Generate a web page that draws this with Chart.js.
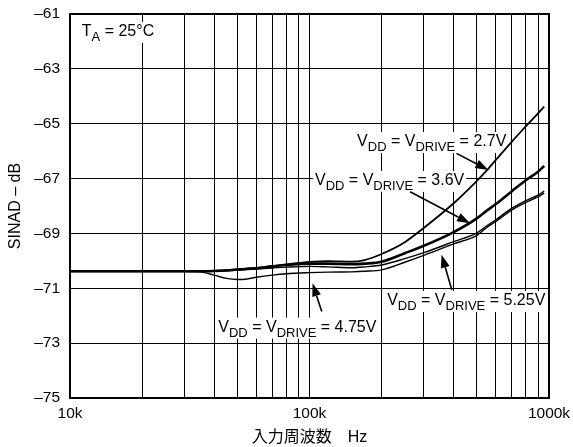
<!DOCTYPE html>
<html>
<head>
<meta charset="utf-8">
<script src="https://cdn.jsdelivr.net/npm/chart.js@4.4.1/dist/chart.umd.min.js"></script>
<style>
  html, body { margin: 0; padding: 0; background: #fff; }
  #wrap { width: 573px; height: 447px; }
</style>
</head>
<body>
<div id="wrap"><canvas id="c" width="573" height="447"></canvas></div>
<script>
// Input frequency in kHz (shared by all four supply curves)
const freqK = [10, 20, 30, 35, 40, 45, 50, 55, 60, 70, 80, 100, 120, 150, 170, 200, 250, 300, 400, 500, 550, 600, 700, 800, 900, 955];

// SINAD (dB) per supply voltage, VDD = VDRIVE
const sinad27  = [-70.38, -70.38, -70.38, -70.38, -70.37, -70.34, -70.31, -70.28, -70.26, -70.19, -70.13, -70.04, -70.01, -70.03, -69.97, -69.75, -69.32, -68.80, -67.90, -67.08, -66.70, -66.32, -65.65, -65.10, -64.62, -64.38];
const sinad36  = [-70.38, -70.38, -70.38, -70.38, -70.37, -70.35, -70.32, -70.29, -70.27, -70.20, -70.15, -70.10, -70.10, -70.12, -70.10, -70.03, -69.72, -69.45, -68.95, -68.45, -68.17, -67.93, -67.46, -67.06, -66.75, -66.54];
const sinad475 = [-70.38, -70.38, -70.38, -70.40, -70.52, -70.64, -70.68, -70.66, -70.60, -70.52, -70.47, -70.43, -70.41, -70.40, -70.38, -70.33, -70.05, -69.80, -69.38, -69.07, -68.78, -68.56, -68.14, -67.87, -67.66, -67.53];
const sinad525 = [-70.38, -70.38, -70.38, -70.38, -70.37, -70.36, -70.34, -70.32, -70.30, -70.26, -70.23, -70.20, -70.22, -70.25, -70.22, -70.15, -69.92, -69.70, -69.30, -68.98, -68.72, -68.50, -68.08, -67.80, -67.60, -67.46];

// Axis ticks
const yTicks = [-75, -73, -71, -69, -67, -65, -63, -61];
const xGridK = [10, 20, 30, 40, 50, 60, 70, 80, 90, 100, 200, 300, 400, 500, 600, 700, 800, 900, 1000];
const xLabelK = [10, 100, 1000];

const FONT = "'Liberation Sans', Arial, 'Noto Sans CJK JP', sans-serif";

function series(ys) {
  return freqK.map((f, i) => ({ x: f, y: ys[i] }));
}

// Callouts: text made of [string, isSubscript] parts, anchored at (kHz, dB), with an arrow
const callouts = [
  { parts: [['T', 0], ['A', 1], [' = 25°C', 0]], at: [11.2, -61.80] },
  { parts: [['V', 0], ['DD', 1], [' = V', 0], ['DRIVE', 1], [' = 2.7V', 0]], at: [158, -65.81],
    arrow: { from: [411, -66.08], to: [558, -66.69] } },
  { parts: [['V', 0], ['DD', 1], [' = V', 0], ['DRIVE', 1], [' = 3.6V', 0]], at: [105.4, -67.23],
    arrow: { from: [263, -67.48], to: [468, -68.63] } },
  { parts: [['V', 0], ['DD', 1], [' = V', 0], ['DRIVE', 1], [' = 5.25V', 0]], at: [211, -71.61],
    arrow: { from: [393, -71.06], to: [356, -69.78] } },
  { parts: [['V', 0], ['DD', 1], [' = V', 0], ['DRIVE', 1], [' = 4.75V', 0]], at: [41.6, -72.58],
    arrow: { from: [112.5, -71.85], to: [103, -70.82] } }
];

const calloutPlugin = {
  id: 'callouts',
  beforeDatasetsDraw(chart) {
    const { ctx, chartArea: a, scales: { x, y } } = chart;
    ctx.save();
    // heavier plot frame
    ctx.strokeStyle = '#000';
    ctx.lineWidth = 2;
    ctx.strokeRect(a.left, a.top, a.right - a.left, a.bottom - a.top);

    const mainFont = '16px ' + FONT;
    const subFont = '13px ' + FONT;
    callouts.forEach(c => {
      const px = x.getPixelForValue(c.at[0]);
      const py = y.getPixelForValue(c.at[1]);
      let w = 0;
      c.parts.forEach(([t, sub]) => { ctx.font = sub ? subFont : mainFont; w += ctx.measureText(t).width; });
      ctx.fillStyle = '#fff';
      ctx.fillRect(px - 2, py - 14, w + 4, 21);
      ctx.fillStyle = '#000';
      ctx.textBaseline = 'alphabetic';
      ctx.textAlign = 'left';
      let cx = px;
      c.parts.forEach(([t, sub]) => {
        ctx.font = sub ? subFont : mainFont;
        ctx.fillText(t, cx, sub ? py + 5 : py);
        cx += ctx.measureText(t).width;
      });
      if (c.arrow) {
        const x0 = x.getPixelForValue(c.arrow.from[0]), y0 = y.getPixelForValue(c.arrow.from[1]);
        const x1 = x.getPixelForValue(c.arrow.to[0]), y1 = y.getPixelForValue(c.arrow.to[1]);
        const ang = Math.atan2(y1 - y0, x1 - x0);
        const hl = 13, hw = 4.5;
        const bx = x1 - hl * Math.cos(ang), by = y1 - hl * Math.sin(ang);
        ctx.strokeStyle = '#000';
        ctx.lineWidth = 1.6;
        ctx.beginPath();
        ctx.moveTo(x0, y0);
        ctx.lineTo(bx, by);
        ctx.stroke();
        ctx.beginPath();
        ctx.moveTo(x1, y1);
        ctx.lineTo(bx + hw * Math.sin(ang), by - hw * Math.cos(ang));
        ctx.lineTo(bx - hw * Math.sin(ang), by + hw * Math.cos(ang));
        ctx.closePath();
        ctx.fill();
      }
    });
    ctx.restore();
  }
};

const lineStyle = (label, ys, width) => ({
  label,
  data: series(ys),
  borderColor: '#000',
  backgroundColor: '#000',
  borderWidth: width,
  pointRadius: 0,
  fill: false,
  cubicInterpolationMode: 'monotone'
});

new Chart(document.getElementById('c'), {
  type: 'line',
  data: {
    datasets: [
      lineStyle('VDD = VDRIVE = 4.75V', sinad475, 1.4),
      lineStyle('VDD = VDRIVE = 5.25V', sinad525, 1.4),
      lineStyle('VDD = VDRIVE = 2.7V', sinad27, 1.8),
      lineStyle('VDD = VDRIVE = 3.6V', sinad36, 2.6)
    ]
  },
  options: {
    responsive: false,
    animation: false,
    devicePixelRatio: 1,
    layout: { padding: { left: 0, top: 14, right: 24, bottom: 0 } },
    plugins: { legend: { display: false }, tooltip: { enabled: false } },
    scales: {
      x: {
        type: 'logarithmic',
        position: 'bottom',
        min: 10,
        max: 1000,
        afterBuildTicks: s => { s.ticks = xGridK.map(v => ({ value: v })); },
        afterFit: s => { s.height = 49; s.paddingLeft = 0; s.paddingRight = 0; },
        ticks: {
          autoSkip: false,
          maxRotation: 0,
          padding: 6,
          color: '#000',
          font: { family: FONT, size: 15.5 },
          callback: v => (xLabelK.includes(v) ? v + 'k' : '')
        },
        grid: { color: '#000', lineWidth: 1, drawTicks: false },
        border: { display: true, color: '#000', width: 2 },
        title: {
          display: true,
          text: '入力周波数　Hz',
          color: '#000',
          font: { family: FONT, size: 16 },
          padding: { top: 0, bottom: 0 }
        }
      },
      y: {
        type: 'linear',
        min: -75,
        max: -61,
        afterBuildTicks: s => { s.ticks = yTicks.map(v => ({ value: v })); },
        afterFit: s => { s.width = 70; s.paddingTop = 0; s.paddingBottom = 0; },
        ticks: {
          padding: 10,
          color: '#000',
          font: { family: FONT, size: 15.5 },
          callback: v => '–' + Math.abs(v)
        },
        grid: { color: '#000', lineWidth: 1, drawTicks: false },
        border: { display: true, color: '#000', width: 2 },
        title: {
          display: true,
          text: 'SINAD – dB',
          color: '#000',
          font: { family: FONT, size: 16 },
          padding: { top: 6, bottom: 0 }
        }
      }
    }
  },
  plugins: [calloutPlugin]
});
</script>
</body>
</html>
